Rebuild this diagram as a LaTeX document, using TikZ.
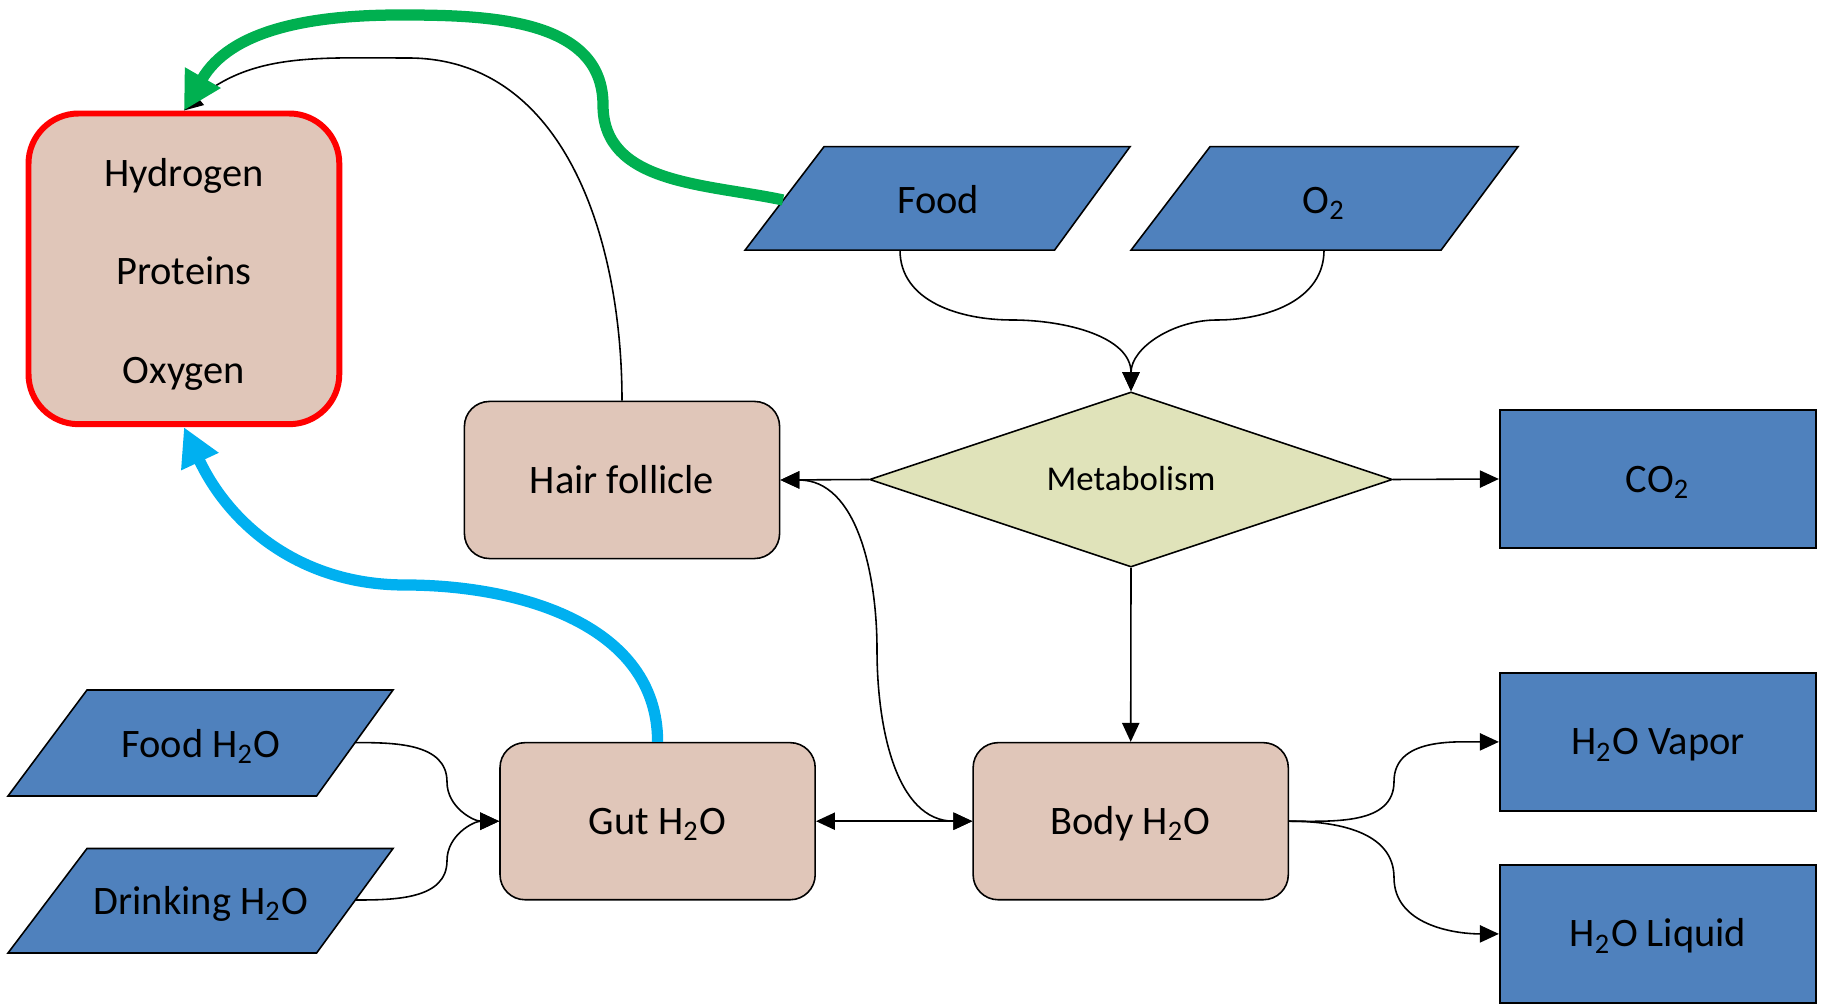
\documentclass[tikz,border=0pt]{standalone}
\usepackage{fontspec}
\setmainfont{Carlito}
\usetikzlibrary{arrows.meta,shapes.geometric}
\definecolor{pblue}{RGB}{79,129,189}
\definecolor{ptan}{RGB}{224,198,185}
\definecolor{polive}{RGB}{224,227,186}
\definecolor{pgreen}{RGB}{0,176,80}
\definecolor{pcyan}{RGB}{0,176,240}
\begin{document}
\begin{tikzpicture}[x=0.01cm,y=0.01cm,
  >={Triangle[length=5.4pt,width=4.9pt]},
  every node/.style={font=\fontsize{11.5}{28}\selectfont, inner sep=0pt},
  sgl/.style={text height=7.4pt, text depth=0pt},
  tanbox/.style={sgl, draw=black, line width=0.45pt, fill=ptan, rounded corners=0.25cm, minimum width=3.15cm, minimum height=1.57cm},
  resbox/.style={draw=red, line width=1.7pt, fill=ptan, rounded corners=0.5cm, minimum width=3.106cm, minimum height=3.105cm, align=center},
  bluebox/.style={sgl, draw=black, line width=0.6pt, fill=pblue, minimum width=3.16cm, minimum height=1.38cm},
  para/.style={draw=black, line width=0.45pt, fill=pblue},
  metabox/.style={diamond, shape aspect=3, draw=black, line width=0.45pt, fill=polive, minimum width=5.225cm, minimum height=1.75cm, font=\fontsize{9.9}{12}\selectfont, text height=6.4pt, text depth=0pt},
  conn/.style={line width=0.45pt},
  thick green/.style={draw=pgreen, line width=3.2pt, -{Triangle[length=10.8pt,width=11pt]}},
  thick cyan/.style={draw=pcyan, line width=3.2pt, -{Triangle[length=10.8pt,width=11pt]}}
]
\useasboundingbox (0,0) rectangle (1825,1006);

% parallelograms
\draw[para] (824,859.3) -- (1130,859.3) -- (1054.5,755.8) -- (745,755.8) -- cycle;
\draw[para] (1210,859.3) -- (1518,859.3) -- (1441,755.8) -- (1131,755.8) -- cycle;
\draw[para] (87,316) -- (393,316) -- (316.6,210) -- (8,210) -- cycle;
\draw[para] (87,157.5) -- (393,157.5) -- (316.6,53) -- (8,53) -- cycle;

\node[sgl] (food) at (938,806) {Food};
\node[sgl] (o2) at (1324,806) {O\textsubscript{2}};
\node[sgl] (fh2o) at (201,262) {Food H\textsubscript{2}O};
\node[sgl] (dh2o) at (201,105) {Drinking H\textsubscript{2}O};

% boxes
\node[resbox] (res) at (183.9,737.15) {\rule{0pt}{11pt}Hydrogen\\Proteins\\Oxygen};
\node[tanbox] (hair) at (622,526) {Hair follicle};
\node[metabox] (meta) at (1131,526.5) {Metabolism};
\node[bluebox] (co2) at (1658,527) {CO\textsubscript{2}};
\node[tanbox] (gut) at (657.6,184.8) {Gut H\textsubscript{2}O};
\node[tanbox] (body) at (1130.7,184.8) {Body H\textsubscript{2}O};
\node[bluebox] (vapor) at (1658,264.1) {H\textsubscript{2}O Vapor};
\node[bluebox] (liquid) at (1658,72.1) {H\textsubscript{2}O Liquid};

% connector points
\coordinate (foodb) at (900,755.8);
\coordinate (foodl) at (783,806);
\coordinate (o2b) at (1324,755.8);
\coordinate (fhr) at (355,263.4);
\coordinate (dhr) at (355,106);
\coordinate (m1) at (1012,686);
\coordinate (m2) at (1217,686);
\coordinate (m3) at (877,356);
\coordinate (m4) at (447,224.1);
\coordinate (m5) at (447,145.4);
\coordinate (m6) at (1394,224.5);
\coordinate (m7) at (1394,128.4);
\coordinate (p1) at (408,948);
\coordinate (g1) at (603,901);
\coordinate (g2) at (400,991);
\coordinate (b1) at (405,421);

% thin connectors
\draw[conn,->] (foodb) to[out=-90,in=180] (m1) to[out=0,in=90] (meta.north);
\draw[conn,->] (o2b) to[out=-90,in=0] (m2) to[out=180,in=90] (meta.north);
\draw[conn,->] (meta.west) -- (hair.east);
\draw[conn,->] (meta.east) -- (co2.west);
\draw[conn,->] (meta.south) -- (body.north);
\draw[conn,<->] (hair.east) to[out=0,in=90] (m3) to[out=-90,in=180] (body.west);
\draw[conn,<->] (gut.east) -- (body.west);
\draw[conn,->] (fhr) to[out=0,in=90] (m4) to[out=-90,in=180] (gut.west);
\draw[conn,->] (dhr) to[out=0,in=-90] (m5) to[out=90,in=180] (gut.west);
\draw[conn,->] (body.east) to[out=0,in=-90] (m6) to[out=90,in=180] (vapor.west);
\draw[conn,->] (body.east) to[out=0,in=90] (m7) to[out=-90,in=180] (liquid.west);
\draw[conn,->] (hair.north) to[out=90,in=0] (p1) to[out=180,in=40] (res.north);

% thick coloured arrows
\draw[thick green] (foodl) to[out=168,in=-90] (g1) to[out=90,in=0] (g2) to[out=180,in=60] (res.north);
\draw[thick cyan] (gut.north) to[out=90,in=0] (b1) to[out=180,in=-65] (res.south);
\end{tikzpicture}
\end{document}
